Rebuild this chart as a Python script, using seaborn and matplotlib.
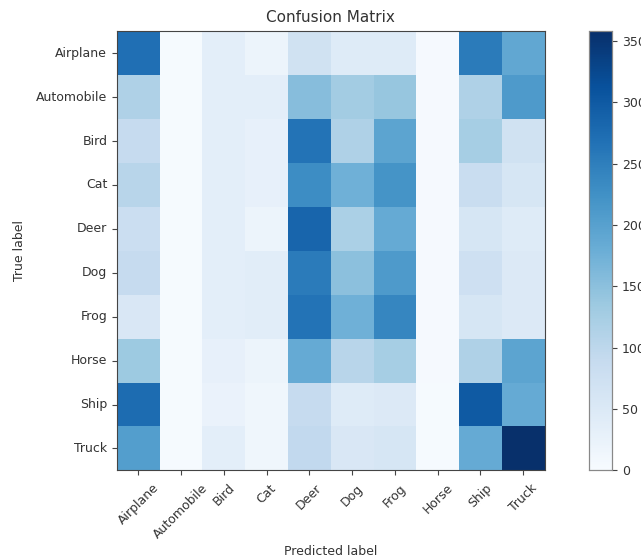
import numpy as np
import matplotlib
matplotlib.use("Agg")
import matplotlib.pyplot as plt
import seaborn as sns

classes = ["Airplane", "Automobile", "Bird", "Cat", "Deer",
           "Dog", "Frog", "Horse", "Ship", "Truck"]

# rows = true label, cols = predicted label
row_airplane   = [270, 3, 35, 20, 70, 45, 45, 5, 255, 190]
row_automobile = [115, 3, 35, 35, 155, 130, 140, 5, 115, 210]
row_bird       = [90, 3, 35, 30, 265, 115, 195, 5, 125, 70]
row_cat        = [105, 3, 35, 30, 230, 175, 220, 5, 85, 60]
row_deer       = [80, 3, 35, 20, 285, 120, 185, 5, 60, 45]
row_dog        = [90, 3, 35, 40, 255, 150, 210, 5, 75, 50]
row_frog       = [55, 3, 35, 40, 265, 175, 240, 5, 60, 50]
row_horse      = [135, 3, 30, 20, 185, 105, 125, 5, 115, 195]
row_ship       = [275, 3, 25, 15, 90, 45, 50, 3, 300, 185]
row_truck      = [205, 3, 35, 15, 95, 55, 60, 3, 185, 358]

cm = np.array([row_airplane, row_automobile, row_bird, row_cat, row_deer,
               row_dog, row_frog, row_horse, row_ship, row_truck])

sns.set_style("white")
plt.rcParams["font.family"] = ["DejaVu Sans"]

fig = plt.figure(figsize=(6.41, 5.58), dpi=100)
ax = fig.add_axes([0.1825, 0.157, 0.667, 0.787])
cax = fig.add_axes([0.919, 0.157, 0.036, 0.787])

sns.heatmap(cm, ax=ax, cbar_ax=cax, cmap="Blues", vmin=0,
            xticklabels=classes, yticklabels=classes, linewidths=0)

for s in ax.spines.values():
    s.set_visible(True)
    s.set_color("#444444")
    s.set_linewidth(0.8)
for s in cax.spines.values():
    s.set_visible(True)
    s.set_color("#888888")
    s.set_linewidth(0.8)

ax.tick_params(axis="both", length=3.5, width=0.8, labelsize=9, color="#444444",
               labelcolor="#333333", bottom=True, left=True)
ax.tick_params(axis="x", pad=4.5)
plt.setp(ax.get_xticklabels(), rotation=45, ha="center")
plt.setp(ax.get_yticklabels(), rotation=0)
ax.set_title("Confusion Matrix", fontsize=11, color="#333333", pad=7)
ax.set_ylabel("True label", fontsize=9, color="#333333", labelpad=7)
ax.set_xlabel("Predicted label", fontsize=9, color="#333333", labelpad=3)

cax.set_yticks([0, 50, 100, 150, 200, 250, 300, 350])
cax.tick_params(labelsize=9, length=3.5, width=0.8, right=True, color="#444444",
                labelcolor="#333333")

fig.savefig("out.png", dpi=100)
